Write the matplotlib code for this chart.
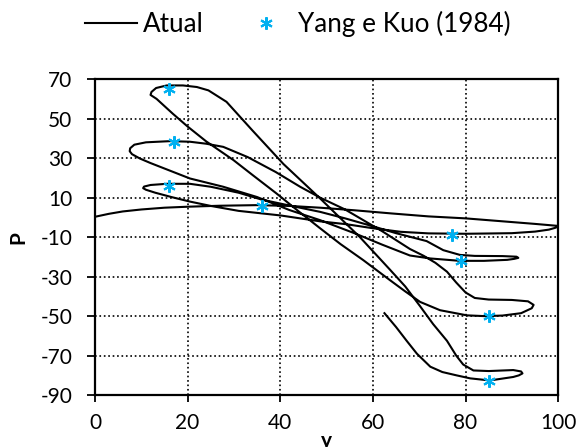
import numpy as np
import matplotlib.pyplot as plt

# curve, one list per half-cycle
s0_x = [0, 3, 6, 10, 15, 20, 27, 35, 42, 48.6, 56, 64, 72, 80, 88, 95, 99.9]
s0_y = [0.3, 1.8, 3, 4, 4.9, 5.4, 5.9, 6.2, 5.8, 4.9, 3.6, 2, 0.5, -0.5, -2, -3.3, -4.3]
s1_x = [99.5, 98, 95, 90, 80, 72, 66, 60, 54.4, 48.6, 40, 31, 25, 20.5, 16.5, 13, 11, 10.4]
s1_y = [-5.2, -6.2, -7.2, -8, -8.3, -8.1, -7.3, -5.5, -3.5, -2, 1, 3.3, 5.8, 8, 10.3, 12.5, 14, 14.8]
s2_x = [10.6, 12, 15.5, 20.5, 25, 31, 36, 42, 48.6, 54, 60, 65, 68, 71.6, 75.2, 78.8, 82, 88, 91]
s2_y = [15.6, 16.4, 17, 17, 15.5, 12.5, 9, 6, 2.8, -0.5, -4.5, -8, -9.8, -12, -16.6, -19, -19.5, -19.6, -19.9]
s3_x = [91.4, 90.5, 89, 84, 78.8, 72.4, 68, 62, 56, 48.6, 42, 35, 27.7, 20.5, 16.9, 12, 9.7, 8, 7.5]
s3_y = [-20.5, -21, -21.5, -22, -22, -20.8, -19.3, -13.8, -8, -1.4, 3.7, 10.3, 15.5, 19.7, 23, 27.5, 29.8, 32, 33.5]
s4_x = [7.6, 8.5, 11, 16.2, 20.5, 24, 27.7, 33, 39, 44.3, 48.6, 54, 58, 62, 65, 68, 71, 73.5, 76, 78, 80, 82, 85, 90, 93.5, 94.7]
s4_y = [35, 36.8, 38, 38.6, 38.3, 37.3, 35.7, 30.5, 23, 15.5, 10, 4, -1.5, -7, -11.5, -16, -19.5, -23, -27.5, -33, -38, -40.8, -41.6, -41.8, -42.5, -44.3]
s5_x = [94.3, 92, 88, 84.2, 80.3, 74.5, 70.2, 67, 63.7, 57.9, 53, 48.6, 44, 39.2, 34, 29.9, 24, 20, 16.8, 13.3, 12]
s5_y = [-46, -48.5, -49.7, -50, -49.6, -47, -42.8, -37.5, -31.8, -21.6, -13.5, -5.5, 3, 12.1, 21.5, 29, 38.5, 46, 52.5, 60, 62]
s6_x = [12.2, 13.2, 15.5, 19, 22, 24.5, 28.4, 34, 40.7, 48.6, 57.2, 63.7, 67, 70.2, 73, 76, 78, 79.5, 81.7, 85, 90.3, 92, 92.3]
s6_y = [63.5, 65.5, 66.8, 66.8, 66, 64.3, 58.5, 44, 27, 9.6, -10, -26.5, -35, -45, -54, -62.5, -70, -74.5, -77.5, -77.8, -77.3, -78, -79]
s7_x = [91.5, 90.3, 86, 84.6, 81, 78.1, 75, 72.4, 69.5, 67.3, 65, 62.5]
s7_y = [-80, -80.8, -82.3, -82.4, -81.5, -80, -78.3, -75.6, -69, -62.5, -55.5, -48.5]

# reference points (Yang e Kuo)
ref_x = [16, 17, 16, 36, 77, 79, 85, 85]
ref_y = [65, 38, 16, 6, -9, -22, -50, -83]

atual_x = s0_x + s1_x + s2_x + s3_x + s4_x + s5_x + s6_x + s7_x
atual_y = s0_y + s1_y + s2_y + s3_y + s4_y + s5_y + s6_y + s7_y

plt.rcParams['font.family'] = ['Lato', 'DejaVu Sans']
plt.rcParams['axes.unicode_minus'] = False

fig = plt.figure(figsize=(5.79, 4.47), dpi=100)
ax = fig.add_axes([0.164, 0.116, 0.8, 0.707])

ax.plot(atual_x, atual_y, color='black', linewidth=1.5, label='Atual')
ax.plot(ref_x, ref_y, linestyle='none', marker=(6, 2, 0), markersize=9,
        markeredgecolor='#00B0F0', markeredgewidth=1.5, label='Yang e Kuo (1984)')

ax.set_xlim(0, 100)
ax.set_ylim(-90, 70)
ax.set_xticks(np.arange(0, 101, 20))
ax.set_yticks(np.arange(-90, 71, 20))
ax.grid(True, color='black', linestyle=':', linewidth=1.2)
for s in ax.spines.values():
    s.set_linewidth(1.6)
ax.tick_params(labelsize=15, width=1.3)
ax.tick_params(axis='x', length=5, pad=8)
ax.tick_params(axis='y', length=5.8, pad=10.5)

# the reference has this label sitting on the bottom edge
ax.set_xlabel('y', fontsize=15, fontweight='bold')
ax.xaxis.set_label_coords(0.5, -0.115)
ax.set_ylabel('P', fontsize=15, fontweight='bold')
ax.yaxis.set_label_coords(-0.143, 0.5)

fig.legend(loc='center left', bbox_to_anchor=(85 / 579, 1 - 24 / 447), ncol=2, frameon=False,
           fontsize=18.8, handlelength=2.0, columnspacing=1.38, handletextpad=0.23,
           borderpad=0, borderaxespad=0)

fig.savefig('out.png', dpi=100)
